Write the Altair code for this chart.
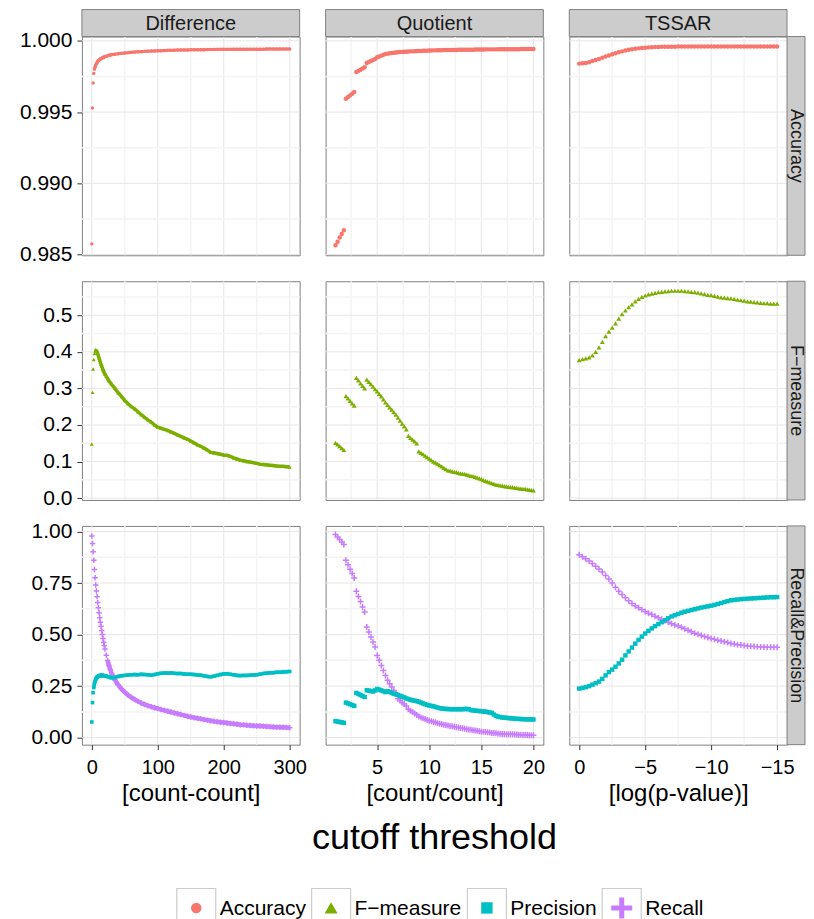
import altair as alt
import pandas as pd

# ---------------- data ----------------
SERIES = ["Accuracy", "F\u2212measure", "Precision", "Recall"]
COLUMNS = ["Difference", "Quotient", "TSSAR"]
ROWS = ["Accuracy", "F\u2212measure", "Recall&Precision"]
X_TITLES = ["[count-count]", "[count/count]", "[log(p-value)]"]

# Difference: threshold [count-count]
D_X = [0, 1, 2, 3, 4, 5, 6, 7, 8, 9, 10, 11, 12, 13, 14, 15, 16, 17, 18, 19, 20,
       22, 24, 26, 28, 30, 35, 40, 45, 50, 55, 60, 65, 70, 75, 80, 85, 90, 95, 100,
       105, 110, 115, 120, 125, 130, 135, 140, 145, 150, 155, 160, 165, 170, 175,
       180, 185, 190, 195, 200, 205, 210, 215, 220, 225, 230, 235, 240, 245, 250,
       255, 260, 265, 270, 275, 280, 285, 290, 295, 300]
D_ACC = [0.98575, 0.99528, 0.99704, 0.99770, 0.99800, 0.99818, 0.99830, 0.99840, 0.99848, 0.99855,
         0.99860, 0.99865, 0.99869, 0.99872, 0.99875, 0.99878, 0.99880, 0.99883, 0.99885, 0.99887, 0.99889,
         0.99892, 0.99895, 0.99898, 0.99900, 0.99902,
         0.99906, 0.99909, 0.99912, 0.99915, 0.99917, 0.99919, 0.99921, 0.99923, 0.99924, 0.99926,
         0.99927, 0.99928, 0.99929, 0.99930,
         0.99931, 0.99932, 0.99933, 0.99933, 0.99934, 0.99935, 0.99935, 0.99936, 0.99936, 0.99937,
         0.99937, 0.99938, 0.99938, 0.99938, 0.99939, 0.99939, 0.99939, 0.99940, 0.99940, 0.99940,
         0.99940, 0.99940, 0.99941, 0.99941, 0.99941, 0.99941, 0.99941, 0.99941, 0.99941, 0.99941,
         0.99941, 0.99941, 0.99942, 0.99942, 0.99942, 0.99942, 0.99942, 0.99942, 0.99942, 0.99942]
D_F = [0.148, 0.289, 0.353, 0.379, 0.395, 0.402, 0.404, 0.403, 0.400, 0.395, 0.389, 0.383, 0.377,
       0.371, 0.366, 0.361, 0.356, 0.351, 0.347, 0.343, 0.339,
       0.333, 0.327, 0.321, 0.316, 0.311,
       0.300, 0.288, 0.278, 0.267, 0.258, 0.250, 0.244, 0.236, 0.228, 0.221, 0.214, 0.208, 0.200, 0.194,
       0.191, 0.188, 0.185, 0.181, 0.177, 0.173, 0.169, 0.165, 0.161, 0.156,
       0.151, 0.146, 0.142, 0.137, 0.132, 0.125, 0.124, 0.122, 0.120, 0.118,
       0.117, 0.114, 0.110, 0.107, 0.104, 0.102, 0.100, 0.099, 0.097, 0.095,
       0.093, 0.092, 0.091, 0.090, 0.089, 0.088, 0.087, 0.087, 0.086, 0.085]
D_P = [0.076, 0.170, 0.218, 0.243, 0.262, 0.274, 0.283, 0.289, 0.293, 0.296, 0.298, 0.300, 0.301,
       0.302, 0.302, 0.302, 0.302, 0.301, 0.301, 0.300, 0.300,
       0.298, 0.296, 0.294, 0.292, 0.291,
       0.292, 0.297, 0.300, 0.302, 0.304, 0.305, 0.306, 0.305, 0.307, 0.306, 0.305, 0.303, 0.306, 0.310,
       0.312, 0.313, 0.313, 0.314, 0.312, 0.311, 0.311, 0.309, 0.308, 0.307,
       0.306, 0.304, 0.303, 0.300, 0.297, 0.295, 0.298, 0.302, 0.306, 0.309,
       0.310, 0.307, 0.305, 0.302, 0.301, 0.302, 0.302, 0.303, 0.304, 0.305,
       0.308, 0.311, 0.313, 0.315, 0.315, 0.317, 0.317, 0.319, 0.320, 0.321]
D_R = [0.978, 0.942, 0.902, 0.860, 0.816, 0.776, 0.740, 0.711, 0.684, 0.655, 0.630, 0.606, 0.582,
       0.560, 0.540, 0.520, 0.500, 0.481, 0.463, 0.446, 0.430,
       0.400, 0.374, 0.350, 0.330, 0.311,
       0.280, 0.256, 0.236, 0.220, 0.206, 0.195, 0.185, 0.176, 0.168, 0.161, 0.155, 0.150, 0.145, 0.141,
       0.136, 0.132, 0.128, 0.124, 0.120, 0.116, 0.112, 0.108, 0.104, 0.100,
       0.097, 0.094, 0.091, 0.088, 0.085, 0.082, 0.079, 0.077, 0.075, 0.073,
       0.071, 0.069, 0.067, 0.065, 0.063, 0.062, 0.060, 0.059, 0.058, 0.057,
       0.056, 0.055, 0.054, 0.053, 0.052, 0.051, 0.051, 0.050, 0.049, 0.048]

# Quotient: threshold [count/count]
Q_X = [1.0, 1.2, 1.4, 1.6, 1.8, 2.0, 2.2, 2.4, 2.6, 2.8, 3.0, 3.2, 3.4, 3.6, 3.8,
       4.0, 4.2, 4.4, 4.6, 4.8, 5.0, 5.2, 5.4, 5.6, 5.8, 6.0, 6.2, 6.4, 6.6, 6.8,
       7.0, 7.2, 7.4, 7.6, 7.8, 8.0, 8.2, 8.4, 8.6, 8.8, 9.0, 9.2, 9.4, 9.6, 9.8,
       10.0, 10.2, 10.4, 10.6, 10.8, 11.0, 11.2, 11.4, 11.6, 11.8, 12.0, 12.2, 12.4, 12.6, 12.8,
       13.0, 13.2, 13.4, 13.6, 13.8, 14.0, 14.2, 14.4, 14.6, 14.8, 15.0, 15.2, 15.4, 15.6, 15.8,
       16.0, 16.2, 16.4, 16.6, 16.8, 17.0, 17.2, 17.4, 17.6, 17.8, 18.0, 18.2, 18.4, 18.6, 18.8,
       19.0, 19.2, 19.4, 19.6, 19.8, 20.0]
Q_ACC = [0.98565, 0.98590, 0.98620, 0.98645, 0.98670,
         0.99593, 0.99605, 0.99617, 0.99629, 0.99641,
         0.99781, 0.99789, 0.99797, 0.99806, 0.99814,
         0.99844, 0.99851, 0.99858, 0.99865, 0.99872,
         0.99885, 0.99890, 0.99896, 0.99902, 0.99907,
         0.99910, 0.99912, 0.99914, 0.99916, 0.99918,
         0.99920, 0.99921, 0.99922, 0.99923, 0.99924,
         0.99925, 0.99926, 0.99926, 0.99927, 0.99928,
         0.99929, 0.99929, 0.99930, 0.99930, 0.99931,
         0.99932, 0.99932, 0.99933, 0.99933, 0.99934,
         0.99934, 0.99934, 0.99935, 0.99935, 0.99935,
         0.99935, 0.99936, 0.99936, 0.99936, 0.99937,
         0.99937, 0.99937, 0.99937, 0.99938, 0.99938,
         0.99938, 0.99938, 0.99939, 0.99939, 0.99939,
         0.99939, 0.99939, 0.99940, 0.99940, 0.99940,
         0.99940, 0.99940, 0.99940, 0.99941, 0.99941,
         0.99941, 0.99941, 0.99941, 0.99941, 0.99941,
         0.99941, 0.99941, 0.99941, 0.99941, 0.99942,
         0.99942, 0.99942, 0.99942, 0.99942, 0.99942,
         0.99942]
Q_F = [0.151, 0.147, 0.142, 0.137, 0.132,
       0.279, 0.273, 0.266, 0.259, 0.253,
       0.329, 0.322, 0.314, 0.307, 0.300,
       0.324, 0.318, 0.312, 0.305, 0.298,
       0.292, 0.285, 0.278, 0.270, 0.262,
       0.255, 0.248, 0.242, 0.235, 0.228,
       0.220, 0.212, 0.204, 0.196, 0.188,
       0.170, 0.165, 0.160, 0.155, 0.150,
       0.128, 0.124, 0.120, 0.116, 0.112,
       0.108, 0.104, 0.100, 0.097, 0.094,
       0.090, 0.087, 0.083, 0.079, 0.076,
       0.075, 0.073, 0.072, 0.071, 0.069,
       0.068, 0.067, 0.066, 0.064, 0.063,
       0.061, 0.060, 0.058, 0.056, 0.054,
       0.052, 0.049, 0.047, 0.045, 0.043,
       0.041, 0.039, 0.037, 0.036, 0.035,
       0.034, 0.033, 0.032, 0.031, 0.030,
       0.030, 0.029, 0.028, 0.027, 0.026,
       0.025, 0.025, 0.024, 0.023, 0.022,
       0.021]
Q_P = [0.080, 0.078, 0.076, 0.074, 0.072,
       0.170, 0.166, 0.162, 0.158, 0.154,
       0.217, 0.212, 0.207, 0.202, 0.197,
       0.230, 0.228, 0.226, 0.224, 0.229,
       0.236, 0.233, 0.229, 0.225, 0.221,
       0.225, 0.222, 0.217, 0.213, 0.210,
       0.207, 0.203, 0.199, 0.195, 0.190,
       0.187, 0.184, 0.181, 0.179, 0.177,
       0.174, 0.170, 0.166, 0.162, 0.159,
       0.156, 0.154, 0.152, 0.149, 0.146,
       0.143, 0.141, 0.140, 0.139, 0.139,
       0.138, 0.138, 0.138, 0.138, 0.138,
       0.138, 0.138, 0.139, 0.139, 0.138,
       0.134, 0.132, 0.131, 0.130, 0.129,
       0.128, 0.127, 0.126, 0.124, 0.122,
       0.120, 0.112, 0.106, 0.102, 0.100,
       0.098, 0.097, 0.096, 0.095, 0.094,
       0.093, 0.092, 0.091, 0.091, 0.090,
       0.090, 0.089, 0.089, 0.089, 0.088,
       0.088]
Q_R = [0.985, 0.973, 0.961, 0.949, 0.937,
       0.860, 0.839, 0.817, 0.796, 0.774,
       0.710, 0.685, 0.660, 0.634, 0.609,
       0.537, 0.513, 0.488, 0.464, 0.440,
       0.399, 0.375, 0.350, 0.326, 0.302,
       0.278, 0.262, 0.246, 0.229, 0.213,
       0.189, 0.180, 0.171, 0.163, 0.154,
       0.138, 0.131, 0.124, 0.117, 0.110,
       0.102, 0.098, 0.094, 0.090, 0.086,
       0.082, 0.079, 0.076, 0.073, 0.070,
       0.067, 0.065, 0.063, 0.061, 0.059,
       0.057, 0.055, 0.053, 0.051, 0.049,
       0.047, 0.045, 0.043, 0.041, 0.040,
       0.038, 0.036, 0.035, 0.033, 0.031,
       0.029, 0.028, 0.027, 0.026, 0.025,
       0.023, 0.022, 0.021, 0.020, 0.019,
       0.018, 0.018, 0.017, 0.017, 0.016,
       0.016, 0.015, 0.015, 0.014, 0.014,
       0.013, 0.013, 0.013, 0.012, 0.012,
       0.012]

# TSSAR: threshold [log(p-value)]
T_X = [0.0, -0.25, -0.5, -0.75, -1.0, -1.25, -1.5, -1.75, -2.0, -2.25, -2.5, -2.75,
       -3.0, -3.25, -3.5, -3.75, -4.0, -4.25, -4.5, -4.75, -5.0, -5.25, -5.5, -5.75,
       -6.0, -6.25, -6.5, -6.75, -7.0, -7.25, -7.5, -7.75, -8.0, -8.25, -8.5, -8.75,
       -9.0, -9.25, -9.5, -9.75, -10.0, -10.25, -10.5, -10.75, -11.0, -11.25, -11.5, -11.75,
       -12.0, -12.25, -12.5, -12.75, -13.0, -13.25, -13.5, -13.75, -14.0, -14.25, -14.5, -14.75,
       -15.0]
T_ACC = [0.99840, 0.99842, 0.99845, 0.99850, 0.99858, 0.99865, 0.99873, 0.99882, 0.99890, 0.99897,
         0.99905, 0.99912, 0.99920, 0.99926, 0.99932, 0.99937, 0.99941, 0.99944, 0.99947, 0.99950,
         0.99952, 0.99954, 0.99955, 0.99956, 0.99957, 0.99958, 0.99958, 0.99959, 0.99959, 0.99959,
         0.99960, 0.99960, 0.99960, 0.99960, 0.99960, 0.99960, 0.99960, 0.99960, 0.99960, 0.99960,
         0.99960, 0.99960, 0.99960, 0.99960, 0.99960, 0.99960, 0.99960, 0.99960, 0.99960, 0.99960,
         0.99960, 0.99960, 0.99960, 0.99960, 0.99960, 0.99960, 0.99960, 0.99960, 0.99960, 0.99960,
         0.99960]
T_F = [0.377, 0.380, 0.382, 0.385, 0.390, 0.400, 0.412, 0.427, 0.443, 0.455, 0.466, 0.478,
       0.491, 0.503, 0.513, 0.522, 0.530, 0.538, 0.545, 0.550, 0.554, 0.557, 0.559, 0.561,
       0.563, 0.564, 0.565, 0.566, 0.567, 0.567, 0.567, 0.567, 0.566, 0.565, 0.564, 0.563,
       0.562, 0.560, 0.558, 0.556, 0.555, 0.553, 0.551, 0.549, 0.548, 0.547, 0.546, 0.545,
       0.543, 0.541, 0.540, 0.538, 0.537, 0.536, 0.535, 0.534, 0.533, 0.533, 0.532, 0.532,
       0.532]
T_P = [0.238, 0.241, 0.245, 0.250, 0.257, 0.264, 0.272, 0.285, 0.302, 0.318, 0.330, 0.344,
       0.360, 0.378, 0.399, 0.418, 0.437, 0.456, 0.474, 0.490, 0.505, 0.518, 0.530, 0.541,
       0.551, 0.560, 0.569, 0.579, 0.588, 0.594, 0.600, 0.606, 0.611, 0.615, 0.619, 0.623,
       0.627, 0.631, 0.634, 0.637, 0.640, 0.644, 0.648, 0.653, 0.658, 0.662, 0.666, 0.668,
       0.670, 0.672, 0.673, 0.674, 0.675, 0.676, 0.677, 0.678, 0.679, 0.680, 0.681, 0.681,
       0.682]
T_R = [0.887, 0.878, 0.868, 0.857, 0.845, 0.832, 0.818, 0.803, 0.787, 0.769, 0.750, 0.729,
       0.710, 0.694, 0.679, 0.664, 0.651, 0.640, 0.630, 0.621, 0.612, 0.604, 0.597, 0.589,
       0.581, 0.574, 0.567, 0.560, 0.553, 0.547, 0.541, 0.535, 0.528, 0.521, 0.514, 0.507,
       0.501, 0.496, 0.491, 0.486, 0.481, 0.477, 0.473, 0.469, 0.465, 0.461, 0.457, 0.454,
       0.451, 0.449, 0.447, 0.445, 0.443, 0.442, 0.441, 0.440, 0.440, 0.439, 0.439, 0.439,
       0.439]

X_DATA = [D_X, Q_X, T_X]
Y_DATA = {
    0: {"Accuracy": D_ACC, "F\u2212measure": D_F, "Precision": D_P, "Recall": D_R},
    1: {"Accuracy": Q_ACC, "F\u2212measure": Q_F, "Precision": Q_P, "Recall": Q_R},
    2: {"Accuracy": T_ACC, "F\u2212measure": T_F, "Precision": T_P, "Recall": T_R},
}
ROW_SERIES = [["Accuracy"], ["F\u2212measure"], ["Recall", "Precision"]]

# axis breaks
X_MAJOR = [[0, 100, 200, 300], [5, 10, 15, 20], [0, -5, -10, -15]]
X_MINOR = [[50, 150, 250], [2.5, 7.5, 12.5, 17.5], [-2.5, -7.5, -12.5]]
Y_MAJOR = [[0.985, 0.990, 0.995, 1.000], [0.0, 0.1, 0.2, 0.3, 0.4, 0.5], [0.0, 0.25, 0.5, 0.75, 1.0]]
Y_MINOR = [[0.9875, 0.9925, 0.9975], [0.05, 0.15, 0.25, 0.35, 0.45, 0.55], [0.125, 0.375, 0.625, 0.875]]
Y_FMT = [".3f", ".1f", ".2f"]

# ---------------- styling / layout ----------------
COLOR = {"Accuracy": "#F8766D", "F\u2212measure": "#7CAE00", "Precision": "#00BFC4", "Recall": "#C77CFF"}
PLUS = "M-1,0H1M0,-1V1"
SHAPE = {"Accuracy": "circle", "F\u2212measure": "triangle-up", "Precision": "square", "Recall": PLUS}
W, H = 218, 219
SPACING = 26
STRIP = 27
RSTRIP = 18
FONT = "Liberation Sans"
X_DOM = [[-15, 315], [0.05, 20.95], [-15.75, 0.75]]
X_REV = [False, False, True]
Y_DOM = [[0.98495, 1.0003], [-0.005, 0.593], [-0.034, 1.027]]
MAJOR_COL = "#E6E6E6"
MINOR_COL = "#F4F4F4"
# Difference column: where the dense part of each series begins (drawn as a solid band)
DENSE_FROM = {"Accuracy": 4, "F\u2212measure": 5, "Precision": 3, "Recall": 24}
BAND_W = {"Accuracy": 3.0, "F\u2212measure": 3.5, "Precision": 3.5, "Recall": 4.5}


def point_layer(name, xs, ys, xsc, ysc, xax, yax, col):
    df = pd.DataFrame({"x": xs, "y": ys})
    big = col > 0
    if name == "Recall":
        mk = alt.Chart(df).mark_point(shape=PLUS, filled=False, size=36 if big else 30,
                                      strokeWidth=1.5, color=COLOR[name], opacity=1)
    else:
        sz = {"Accuracy": 20 if big else 12, "F\u2212measure": 24 if big else 15,
              "Precision": 20 if big else 13}[name]
        mk = alt.Chart(df).mark_point(shape=SHAPE[name], filled=True, size=sz,
                                      color=COLOR[name], opacity=1, strokeWidth=0)
    return mk.encode(x=alt.X("x:Q", scale=xsc, axis=xax), y=alt.Y("y:Q", scale=ysc, axis=yax))


def band_layer(name, xs, ys, xsc, ysc, xax, yax):
    df = pd.DataFrame({"x": xs, "y": ys})
    df = df[df["x"] >= DENSE_FROM[name]]
    return (alt.Chart(df).mark_line(color=COLOR[name], strokeWidth=BAND_W[name], opacity=1)
            .encode(x=alt.X("x:Q", scale=xsc, axis=xax), y=alt.Y("y:Q", scale=ysc, axis=yax)))


def panel(r, c):
    xsc = alt.Scale(domain=X_DOM[c], nice=False, zero=False, reverse=X_REV[c])
    ysc = alt.Scale(domain=Y_DOM[r], nice=False, zero=False)
    if r == 2:
        xax = alt.Axis(values=X_MAJOR[c], format="d", title=X_TITLES[c], grid=False, domain=False,
                       tickSize=5, tickColor="#333333", labelFontSize=20, labelPadding=8,
                       labelColor="black", titleFontSize=24, titleFontWeight="normal",
                       titleColor="black", titlePadding=4, labelFlush=False)
    else:
        xax = None
    if c == 0:
        yax = alt.Axis(values=Y_MAJOR[r], format=Y_FMT[r], title=None, grid=False, domain=False,
                       tickSize=5, tickColor="#333333", labelFontSize=21, labelPadding=5,
                       labelColor="black", labelFlush=False)
    else:
        yax = None

    layers = []
    # grid lines
    for vals, colr, sw in ((X_MINOR[c], MINOR_COL, 1.5), (X_MAJOR[c], MAJOR_COL, 1)):
        layers.append(alt.Chart(pd.DataFrame({"x": vals})).mark_rule(color=colr, strokeWidth=sw)
                      .encode(x=alt.X("x:Q", scale=xsc, axis=xax)))
    for vals, colr, sw in ((Y_MINOR[r], MINOR_COL, 1.5), (Y_MAJOR[r], MAJOR_COL, 1)):
        layers.append(alt.Chart(pd.DataFrame({"y": vals})).mark_rule(color=colr, strokeWidth=sw)
                      .encode(y=alt.Y("y:Q", scale=ysc, axis=yax)))
    # data points
    for name in ROW_SERIES[r]:
        if c == 0:
            layers.append(band_layer(name, X_DATA[c], Y_DATA[c][name], xsc, ysc, xax, yax))
        layers.append(point_layer(name, X_DATA[c], Y_DATA[c][name], xsc, ysc, xax, yax, c))

    # top strip
    if r == 0:
        sdf = pd.DataFrame({"label": [COLUMNS[c]]})
        layers.append(alt.Chart(sdf).mark_rect(fill="#CCCCCC", stroke="#7F7F7F", strokeWidth=1)
                      .encode(x=alt.value(0), x2=alt.value(W), y=alt.value(-STRIP), y2=alt.value(0)))
        layers.append(alt.Chart(sdf).mark_text(fontSize=20, color="#1A1A1A", baseline="middle",
                                               align="center")
                      .encode(x=alt.value(W / 2), y=alt.value(-STRIP / 2 + 1), text="label:N"))
    # right strip
    if c == 2:
        sdf = pd.DataFrame({"label": [ROWS[r]]})
        layers.append(alt.Chart(sdf).mark_rect(fill="#CCCCCC", stroke="#7F7F7F", strokeWidth=1)
                      .encode(x=alt.value(W), x2=alt.value(W + RSTRIP), y=alt.value(0), y2=alt.value(H)))
        layers.append(alt.Chart(sdf).mark_text(fontSize=18, color="#1A1A1A", baseline="middle",
                                               align="center", angle=90)
                      .encode(x=alt.value(W + RSTRIP / 2), y=alt.value(H / 2), text="label:N"))
    # overall x title and legend, placed below the bottom-left panel
    if r == 2 and c == 0:
        tdf = pd.DataFrame({"label": ["cutoff threshold"]})
        layers.append(alt.Chart(tdf).mark_text(fontSize=36, color="black", baseline="middle",
                                               align="center")
                      .encode(x=alt.value(353), y=alt.value(312), text="label:N"))
        box_x = [95, 230, 386, 521]
        top, bs = 363, 39
        for name, bx in zip(SERIES, box_x):
            ldf = pd.DataFrame({"label": [name]})
            layers.append(alt.Chart(ldf).mark_rect(fill="white", stroke="#CCCCCC", strokeWidth=1.2)
                          .encode(x=alt.value(bx), x2=alt.value(bx + bs), y=alt.value(top),
                                  y2=alt.value(top + bs)))
            if name == "Recall":
                sym = alt.Chart(ldf).mark_point(shape=PLUS, filled=False, size=440, strokeWidth=5,
                                                color=COLOR[name], opacity=1)
            else:
                ssz = {"Accuracy": 110, "F\u2212measure": 170, "Precision": 130}[name]
                sym = alt.Chart(ldf).mark_point(shape=SHAPE[name], filled=True, size=ssz,
                                                color=COLOR[name], opacity=1, strokeWidth=0)
            layers.append(sym.encode(x=alt.value(bx + bs / 2), y=alt.value(top + bs / 2)))
            layers.append(alt.Chart(ldf).mark_text(fontSize=21, color="black", baseline="middle",
                                                   align="left")
                          .encode(x=alt.value(bx + bs + 4), y=alt.value(top + bs / 2 + 1),
                                  text="label:N"))

    return alt.layer(*layers).properties(width=W, height=H)


panels = [panel(r, c) for r in range(3) for c in range(3)]

chart = (
    alt.concat(*panels, columns=3, spacing=SPACING, bounds="flush")
    .properties(padding={"left": 10, "top": 0, "right": 0, "bottom": 0})
    .configure(font=FONT)
    .configure_concat(spacing=SPACING)
    .configure_view(stroke="#7F7F7F", strokeWidth=1)
)

chart.save("out.html", embed_options={"renderer": "svg", "actions": False})
